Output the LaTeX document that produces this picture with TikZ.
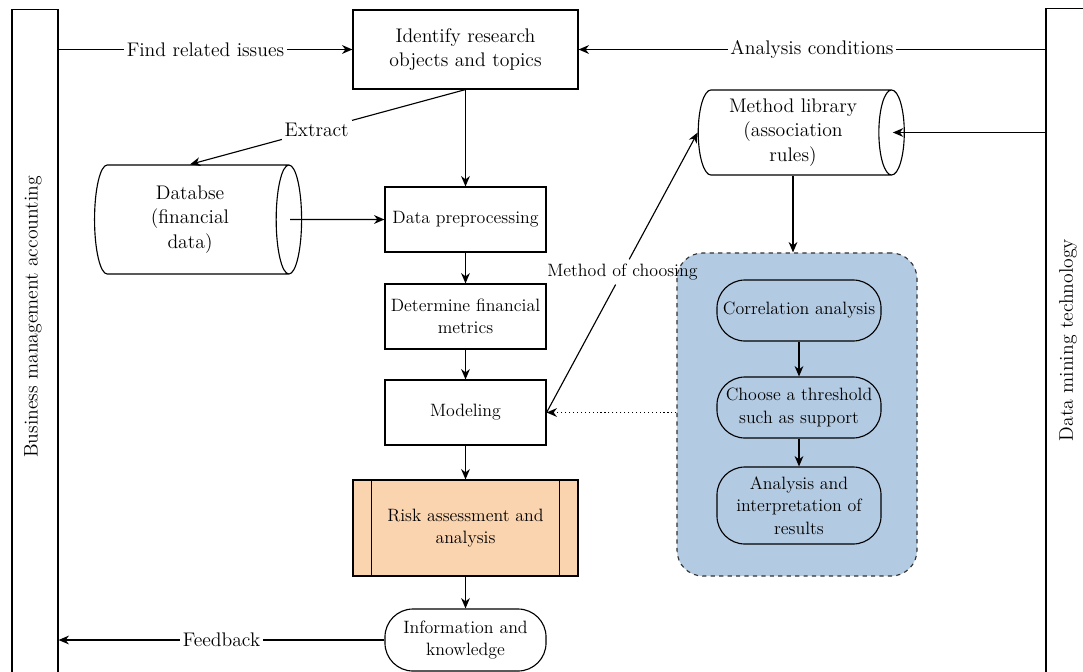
\documentclass[tikz,border=0pt]{standalone}
\usepackage{xcolor}
\usepackage{tikz}
\usetikzlibrary{arrows.meta,positioning,calc,shapes.geometric,backgrounds}
\definecolor{riskfill}{HTML}{FAD3AF}
\definecolor{groupfill}{HTML}{B3CAE3}
\definecolor{groupline}{HTML}{333333}
\newcommand{\lblfont}{\fontsize{14}{17.5}\selectfont}
\newcommand{\boxfont}{\fontsize{12.7}{16}\selectfont}
\tikzset{procbox/.style={rectangle,draw,fill=white,line width=0.8pt,align=center,
  inner sep=2pt,font=\boxfont},
  drum/.style={cylinder,draw,line width=0.8pt,aspect=0.36,align=center,
  inner sep=1pt,font=\lblfont},
  pill/.style={procbox,rounded corners=0.7cm},
  lane/.style={rectangle,draw,line width=0.8pt,minimum height=17.25cm},
  arr/.style={-{Stealth[length=2.6mm,width=2.2mm]},line width=0.8pt},
  elabel/.style={font=\lblfont,fill=white,inner sep=2pt}}

\begin{document}
\begin{tikzpicture}[x=0.025cm,y=-0.025cm]
 \useasboundingbox (0,0) rectangle (1083,671);
 % swimlanes
 \node[lane,minimum width=1.15cm] (bma) at (35,355) {};
 \node[lane,minimum width=1.1cm] (dmt) at (1068,354) {};
 \node[rotate=90,font=\lblfont] (bmat) at (33,317) {Business management accounting};
 \node[rotate=90,font=\lblfont] (dmtt) at (1068,340) {Data mining technology};
 % main flow
 \node[procbox,font=\lblfont,minimum width=5.625cm,minimum height=1.975cm] (iden) at (465.5,49.5)
  {Identify research\\objects and topics};
 \node[procbox,minimum width=4.025cm,minimum height=1.625cm] (dpre) at (465.5,219.5) {Data preprocessing};
 \node[procbox,minimum width=4.025cm,minimum height=1.625cm] (metr) at (465.5,316.5) {Determine financial\\metrics};
 \node[procbox,minimum width=4.025cm,minimum height=1.625cm] (mod) at (465.5,412.5) {Modeling};
 \node[procbox,fill=riskfill,minimum width=5.625cm,minimum height=2.4cm] (risk) at (465.5,528)
  {Risk assessment and\\analysis};
 \draw[line width=0.8pt] ([xshift=0.475cm]risk.north west) -- ([xshift=0.475cm]risk.south west)
  ([xshift=-0.475cm]risk.north east) -- ([xshift=-0.475cm]risk.south east);
 \node[pill,minimum width=4.025cm,minimum height=1.55cm] (info) at (465.5,640) {Information and\\knowledge};
 % data stores
 \node[drum,minimum height=5.175cm,minimum width=2.725cm] (db) at (190,219.5) {Databse\\(financial\\data)};
 \node[drum,minimum height=5.15cm,minimum width=2.125cm] (meth) at (793,132.5)
  {Method library\\(association\\rules)};
 % association rule steps
 \node[pill,fill=groupfill,minimum width=4.1cm,minimum height=1.525cm] (corr) at (799,310.5) {Correlation analysis};
 \node[pill,fill=groupfill,minimum width=4.1cm,minimum height=1.525cm] (thr) at (799,407.5)
  {Choose a threshold\\such as support};
 \node[pill,fill=groupfill,minimum width=4.1cm,minimum height=1.925cm] (intp) at (799,505.5)
  {Analysis and\\interpretation of\\results};
 \begin{scope}[on background layer]
  \node[draw=groupline,dashed,fill=groupfill,rounded corners=0.65cm,line width=0.8pt,
   minimum width=6cm,minimum height=8.075cm] (grp) at (797,414.5) {};
 \end{scope}
 % connectors
 \draw[arr] (bma.east |- iden.west)--node[elabel] {Find related issues}(iden.west);
 \draw[arr] (dmt.west |- iden.east)--node[elabel] {Analysis conditions}(iden.east);
 \draw[arr] (iden.south)--node[elabel,pos=0.54] {Extract}(db.north);
 \draw[arr] (iden.south)--(dpre.north);
 \draw[arr] ([xshift=-0.3cm]db.east)--(dpre.west);
 \draw[arr] (dpre)--(metr);
 \draw[arr] (metr)--(mod);
 \draw[arr] (mod)--(risk);
 \draw[arr] (risk)--(info);
 \draw[arr] (info.west)--node[elabel] {Feedback}(bma.east |- info.west);
 \draw[arr] (dmt.west |- meth.east)--([xshift=-0.3cm]meth.east);
 \draw[arr] (meth.south)--(meth.south |- grp.north);
 \draw[arr] (corr)--(thr);
 \draw[arr] (thr)--(intp);
 \node[font=\boxfont,inner sep=3pt] (choose) at ($(mod.east)!0.502!(meth.west)$) {Method of choosing};
 \draw[line width=0.8pt] (mod.east)--(choose);
 \draw[arr] (choose)--(meth.west);
 \draw[arr,dotted] (grp.west |- mod.east)--(mod.east);
\end{tikzpicture}
\end{document}
